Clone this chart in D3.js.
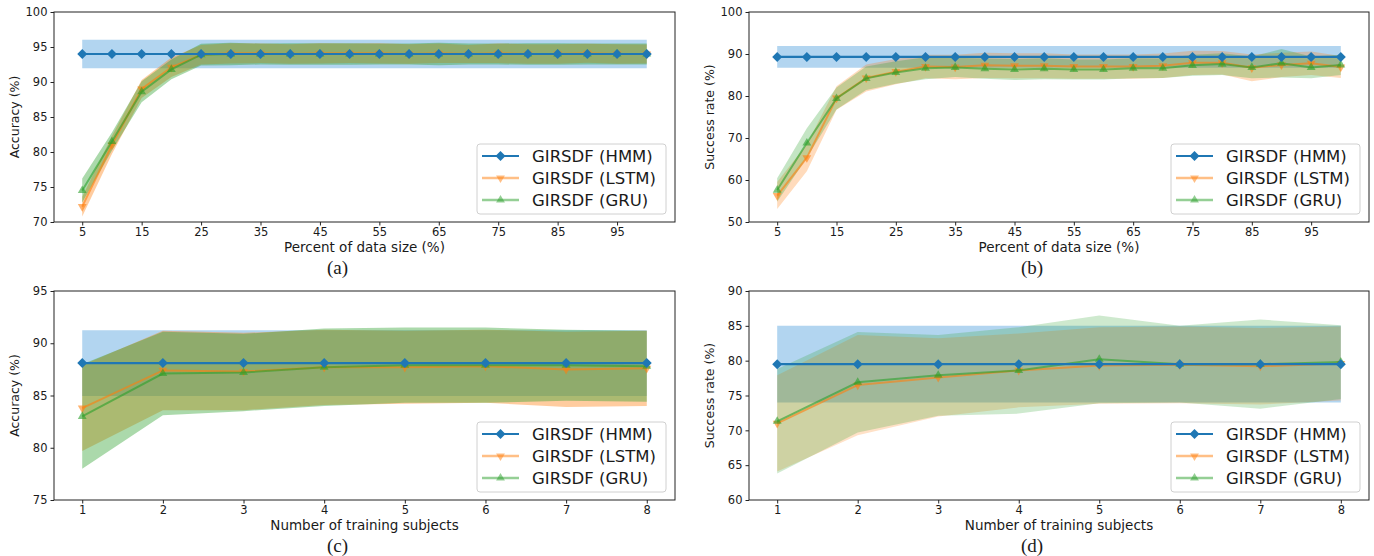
<!DOCTYPE html>
<html>
<head>
<meta charset="utf-8">
<script src="https://cdn.jsdelivr.net/npm/d3@7"></script>
<style>
  body { margin: 0; background: #fff; }
  text { font-family: "DejaVu Sans", sans-serif; fill: #1a1a1a; }
  .caption { font-family: "Liberation Serif", "DejaVu Serif", serif; }
</style>
</head>
<body>
<div id="chart"></div>
<script>
// ---- data ----
const seriesNames = ["GIRSDF (HMM)", "GIRSDF (LSTM)", "GIRSDF (GRU)"];

// (a) and (b): percent of data size
const dataSize = [5, 10, 15, 20, 25, 30, 35, 40, 45, 50, 55, 60, 65, 70, 75, 80, 85, 90, 95, 100];
const dataSizeTicks = [5, 15, 25, 35, 45, 55, 65, 75, 85, 95];

const accHmmA = [94.0, 94.0, 94.0, 94.0, 94.0, 94.0, 94.0, 94.0, 94.0, 94.0, 94.0, 94.0, 94.0, 94.0, 94.0, 94.0, 94.0, 94.0, 94.0, 94.0];
const accHmmSdA = [2.05, 2.05, 2.05, 2.05, 2.05, 2.05, 2.05, 2.05, 2.05, 2.05, 2.05, 2.05, 2.05, 2.05, 2.05, 2.05, 2.05, 2.05, 2.05, 2.05];
const accLstmA = [72.2, 81.0, 89.0, 92.1, 93.9, 94.1, 94.1, 94.0, 94.1, 94.1, 94.1, 94.0, 94.1, 94.0, 94.1, 94.0, 94.0, 94.1, 94.0, 94.0];
const accLstmSdA = [1.4, 1.3, 1.3, 1.4, 1.4, 1.45, 1.4, 1.4, 1.45, 1.4, 1.45, 1.4, 1.4, 1.3, 1.4, 1.4, 1.4, 1.35, 1.4, 1.35];
const accGruA = [74.5, 81.5, 88.6, 91.8, 93.9, 94.0, 94.0, 94.0, 94.0, 94.0, 94.0, 94.0, 94.0, 94.0, 94.0, 94.0, 94.0, 94.0, 94.0, 94.0];
const accGruSdA = [1.7, 1.3, 1.5, 1.4, 1.55, 1.6, 1.5, 1.55, 1.55, 1.55, 1.5, 1.5, 1.6, 1.5, 1.5, 1.55, 1.55, 1.5, 1.5, 1.5];

const srHmmB = [89.3, 89.3, 89.3, 89.3, 89.3, 89.3, 89.3, 89.3, 89.3, 89.3, 89.3, 89.3, 89.3, 89.3, 89.3, 89.3, 89.3, 89.3, 89.3, 89.3];
const srHmmSdB = [2.6, 2.6, 2.6, 2.6, 2.6, 2.6, 2.6, 2.6, 2.6, 2.6, 2.6, 2.6, 2.6, 2.6, 2.6, 2.6, 2.6, 2.6, 2.6, 2.6];
const srLstmB = [56.3, 65.3, 79.5, 84.3, 85.8, 87.0, 86.9, 87.3, 87.2, 87.2, 87.0, 87.0, 87.0, 87.2, 87.9, 87.9, 86.7, 87.4, 87.8, 86.9];
const srLstmSdB = [3.2, 3.2, 2.8, 3.2, 3.0, 2.8, 2.9, 3.0, 3.0, 3.0, 2.9, 2.9, 2.9, 2.9, 2.9, 2.8, 3.2, 2.9, 2.8, 2.6];
const srGruB = [57.6, 68.8, 79.4, 84.2, 85.6, 86.6, 86.8, 86.5, 86.3, 86.5, 86.3, 86.3, 86.6, 86.6, 87.3, 87.6, 86.8, 87.8, 86.8, 87.4];
const srGruSdB = [2.8, 3.5, 2.6, 2.8, 2.7, 2.6, 2.3, 2.4, 2.5, 2.5, 2.4, 2.4, 2.4, 2.3, 2.5, 2.6, 2.6, 3.4, 2.6, 2.4];

// (c) and (d): number of training subjects
const subjects = [1, 2, 3, 4, 5, 6, 7, 8];

const accHmmC = [88.1, 88.1, 88.1, 88.1, 88.1, 88.1, 88.1, 88.1];
const accHmmSdC = [3.15, 3.15, 3.15, 3.15, 3.15, 3.15, 3.15, 3.15];
const accLstmC = [83.8, 87.4, 87.3, 87.7, 87.7, 87.8, 87.5, 87.6];
const accLstmSdC = [4.1, 3.8, 3.7, 3.6, 3.5, 3.5, 3.6, 3.6];
const accGruC = [83.0, 87.1, 87.2, 87.7, 87.9, 87.9, 87.9, 87.8];
const accGruSdC = [5.0, 4.0, 3.7, 3.7, 3.6, 3.6, 3.4, 3.4];

const srHmmD = [79.5, 79.5, 79.5, 79.5, 79.5, 79.5, 79.5, 79.5];
const srHmmSdD = [5.5, 5.5, 5.5, 5.5, 5.5, 5.5, 5.5, 5.5];
const srLstmD = [71.0, 76.5, 77.6, 78.6, 79.3, 79.4, 79.2, 79.6];
const srLstmSdD = [6.9, 7.2, 5.6, 5.3, 5.5, 5.5, 5.5, 5.3];
const srGruD = [71.3, 76.9, 77.9, 78.6, 80.2, 79.5, 79.5, 79.8];
const srGruSdD = [7.5, 7.2, 5.8, 6.2, 6.3, 5.5, 6.4, 5.3];

const colors = ["#1f77b4", "#ff7f0e", "#2ca02c"];

// ---- panel layout ----
const panels = [
  { left: 54, top: 12, width: 621, height: 210, x: dataSize, xTicks: dataSizeTicks, xDomain: [0.25, 104.75],
    yDomain: [70, 100], yTicks: [70, 75, 80, 85, 90, 95, 100], yLabel: "Accuracy (%)", xLabel: "Percent of data size (%)",
    caption: "(a)", alpha: 0.4, series: [[accHmmA, accHmmSdA], [accLstmA, accLstmSdA], [accGruA, accGruSdA]] },
  { left: 749, top: 12, width: 620, height: 210, x: dataSize, xTicks: dataSizeTicks, xDomain: [0.25, 104.75],
    yDomain: [50, 100], yTicks: [50, 60, 70, 80, 90, 100], yLabel: "Success rate (%)", xLabel: "Percent of data size (%)",
    caption: "(b)", alpha: 0.28, series: [[srHmmB, srHmmSdB], [srLstmB, srLstmSdB], [srGruB, srGruSdB]] },
  { left: 54, top: 291, width: 621, height: 209, x: subjects, xTicks: subjects, xDomain: [0.65, 8.35],
    yDomain: [75, 95], yTicks: [75, 80, 85, 90, 95], yLabel: "Accuracy (%)", xLabel: "Number of training subjects",
    caption: "(c)", alpha: 0.4, series: [[accHmmC, accHmmSdC], [accLstmC, accLstmSdC], [accGruC, accGruSdC]] },
  { left: 749, top: 291, width: 620, height: 209, x: subjects, xTicks: subjects, xDomain: [0.65, 8.35],
    yDomain: [60, 90], yTicks: [60, 65, 70, 75, 80, 85, 90], yLabel: "Success rate (%)", xLabel: "Number of training subjects",
    caption: "(d)", alpha: 0.23, series: [[srHmmD, srHmmSdD], [srLstmD, srLstmSdD], [srGruD, srGruSdD]] }
];

const svg = d3.select("#chart").append("svg")
  .attr("width", 1374).attr("height", 556);

function markerPath(i) {
  if (i === 0) return d3.symbol(d3.symbolSquare, 50)();
  return d3.symbol(d3.symbolTriangle, 34)();
}
function markerRotate(i) {
  return i === 0 ? 45 : (i === 1 ? 180 : 0);
}

panels.forEach(p => {
  const g = svg.append("g").attr("transform", `translate(${p.left},${p.top})`);
  const x = d3.scaleLinear().domain(p.xDomain).range([0, p.width]);
  const y = d3.scaleLinear().domain(p.yDomain).range([p.height, 0]);

  // bands (mean +/- sd)
  p.series.forEach(([mean, sd], i) => {
    const rows = p.x.map((v, k) => ({ x: v, lo: mean[k] - sd[k], hi: mean[k] + sd[k] }));
    g.append("path")
      .datum(rows)
      .attr("d", d3.area().x(d => x(d.x)).y0(d => y(d.lo)).y1(d => y(d.hi)))
      .attr("fill", i === 0 ? "#2a8ad6" : colors[i])
      .attr("fill-opacity", i === 0 ? 0.36 : p.alpha);
  });

  // lines: LSTM, GRU, then HMM on top
  [1, 2, 0].forEach(i => {
    const mean = p.series[i][0];
    const rows = p.x.map((v, k) => ({ x: v, y: mean[k] }));
    const op = i === 0 ? 1 : 0.6;
    g.append("path")
      .datum(rows)
      .attr("d", d3.line().x(d => x(d.x)).y(d => y(d.y)))
      .attr("fill", "none")
      .attr("stroke", colors[i])
      .attr("stroke-width", i === 0 ? 2.2 : 2)
      .attr("stroke-opacity", op);
    g.selectAll(null).data(rows).enter().append("path")
      .attr("d", markerPath(i))
      .attr("transform", d => `translate(${x(d.x)},${y(d.y)}) rotate(${markerRotate(i)})`)
      .attr("fill", colors[i])
      .attr("fill-opacity", op);
  });

  // axes
  const xAxis = g.append("g").attr("transform", `translate(0,${p.height})`)
    .call(d3.axisBottom(x).tickValues(p.xTicks).tickSize(3.5).tickPadding(2.5).tickFormat(d3.format("d")));
  const yAxis = g.append("g")
    .call(d3.axisLeft(y).tickValues(p.yTicks).tickSize(3.5).tickPadding(3).tickFormat(d3.format("d")));
  [xAxis, yAxis].forEach(a => {
    a.select(".domain").remove();
    a.selectAll("line").attr("stroke", "#222");
    a.selectAll("text").style("font-size", "11.5px").attr("fill", "#1a1a1a");
  });

  // frame
  g.append("rect").attr("width", p.width).attr("height", p.height)
    .attr("fill", "none").attr("stroke", "#222").attr("stroke-width", 1);

  // labels
  g.append("text")
    .attr("x", p.width / 2).attr("y", p.height + 30)
    .attr("text-anchor", "middle").style("font-size", "13.5px")
    .text(p.xLabel);
  g.append("text")
    .attr("transform", `translate(${-35},${p.height / 2}) rotate(-90)`)
    .attr("text-anchor", "middle").style("font-size", "12.5px")
    .text(p.yLabel);
  g.append("text").attr("class", "caption")
    .attr("x", p.width / 2 - 27).attr("y", p.height + 52)
    .attr("text-anchor", "middle").style("font-size", "19px")
    .text(p.caption);

  // legend
  const lw = 189, lh = 70;
  const lg = g.append("g").attr("transform", `translate(${p.width - 9 - lw},${p.height - 8 - lh})`);
  lg.append("rect").attr("width", lw).attr("height", lh).attr("rx", 3)
    .attr("fill", "#fff").attr("fill-opacity", 0.85).attr("stroke", "#d0d0d0");
  seriesNames.forEach((name, i) => {
    const cy = 12 + i * 22;
    const op = i === 0 ? 1 : 0.5;
    lg.append("line").attr("x1", 5).attr("x2", 42).attr("y1", cy).attr("y2", cy)
      .attr("stroke", colors[i]).attr("stroke-width", i === 0 ? 2.2 : 2.5).attr("stroke-opacity", op);
    lg.append("path").attr("d", markerPath(i))
      .attr("transform", `translate(23.5,${cy}) rotate(${markerRotate(i)})`)
      .attr("fill", colors[i]).attr("fill-opacity", op);
    lg.append("text").attr("x", 55).attr("y", cy).attr("dy", "0.36em")
      .style("font-size", "16.5px").text(name);
  });
});
</script>
</body>
</html>
